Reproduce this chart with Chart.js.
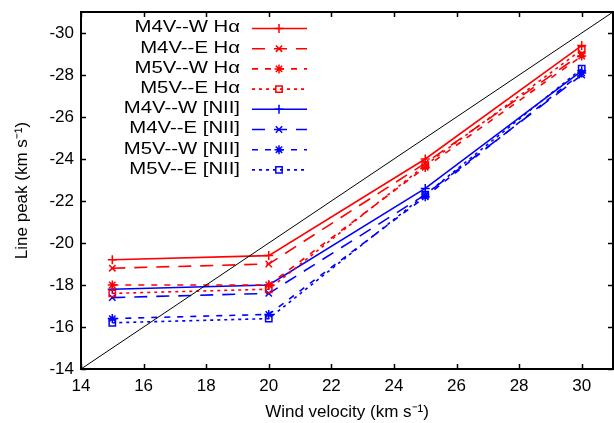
<!DOCTYPE html>
<html>
<head>
<meta charset="utf-8">
<script src="https://cdn.jsdelivr.net/npm/chart.js@4.4.0/dist/chart.umd.min.js"></script>
<style>
html,body{margin:0;padding:0;background:#fff;}
#wrap{width:614px;height:423px;}
</style>
</head>
<body>
<div id="wrap"><canvas id="c" width="614" height="423"></canvas></div>
<script>
// ---- data ----
const windVelocity = [15, 20, 25, 30];
const seriesLabels = ['M4V--W H\u03b1','M4V--E H\u03b1','M5V--W H\u03b1','M5V--E H\u03b1',
                      'M4V--W [NII]','M4V--E [NII]','M5V--W [NII]','M5V--E [NII]'];
const m4vW_Ha  = [-19.2, -19.4, -24.0, -29.4];
const m4vE_Ha  = [-18.8, -19.0, -23.8, -29.0];
const m5vW_Ha  = [-18.0, -18.0, -23.6, -28.9];
const m5vE_Ha  = [-17.6, -17.8, -23.7, -29.2];
const m4vW_NII = [-17.8, -18.0, -22.6, -28.2];
const m4vE_NII = [-17.4, -17.6, -22.3, -28.0];
const m5vW_NII = [-16.4, -16.6, -22.2, -28.1];
const m5vE_NII = [-16.2, -16.4, -22.3, -28.3];
const diagonalX = [14, 31];          // y = -x reference line
const xTicks = [14,16,18,20,22,24,26,28,30];
const yTicks = [-14,-16,-18,-20,-22,-24,-26,-28,-30];
const xMin = 14, xMax = 31, yMin = -31, yMax = -14;

const FONT = "'Liberation Sans', Arial, sans-serif";
const RED = '#ff0000', BLUE = '#0000ff';

const styles = [
  {c:RED,  dash:[],      ps:'cross'},
  {c:RED,  dash:[13,9],  ps:'crossRot'},
  {c:RED,  dash:[6,7],   ps:'star'},
  {c:RED,  dash:[3,4],   ps:'rect'},
  {c:BLUE, dash:[],      ps:'cross'},
  {c:BLUE, dash:[13,9],  ps:'crossRot'},
  {c:BLUE, dash:[6,7],   ps:'star'},
  {c:BLUE, dash:[3,4],   ps:'rect'}
];
const seriesValues = [m4vW_Ha, m4vE_Ha, m5vW_Ha, m5vE_Ha, m4vW_NII, m4vE_NII, m5vW_NII, m5vE_NII];

const datasets = seriesValues.map((vals, i) => ({
  label: seriesLabels[i],
  data: windVelocity.map((x, j) => ({x: x, y: vals[j]})),
  borderColor: styles[i].c,
  backgroundColor: 'rgba(0,0,0,0)',
  borderWidth: 1.6,
  borderDash: styles[i].dash,
  pointStyle: styles[i].ps,
  pointRadius: 4.5,
  pointBorderColor: styles[i].c,
  pointBackgroundColor: 'rgba(0,0,0,0)',
  pointBorderWidth: 1.5,
  fill: false,
  tension: 0
}));
datasets.unshift({
  label: '_diag',
  data: diagonalX.map(x => ({x: x, y: -x})),
  borderColor: '#000',
  borderWidth: 1,
  pointRadius: 0,
  fill: false
});

// stretch the plot area to the right edge like the reference frame
const areaPlugin = {
  id: 'area',
  afterLayout(chart) {
    const target = chart.width - 1;
    const a = chart.chartArea;
    const sx = chart.scales.x;
    if (!sx || a.right >= target) return;
    a.right = target; a.width = a.right - a.left;
    sx.right = target; sx.width = target - sx.left;
    sx.configure();
  }
};

const framePlugin = {
  id: 'frame',
  afterDatasetsDraw(chart) {
    const {ctx, chartArea: a, scales} = chart;
    ctx.save();
    ctx.strokeStyle = '#000';
    ctx.lineWidth = 1.5;
    ctx.setLineDash([]);
    const L = 5;
    ctx.beginPath();
    xTicks.forEach(v => {
      const px = Math.round(scales.x.getPixelForValue(v)) + 0.5;
      ctx.moveTo(px, a.bottom); ctx.lineTo(px, a.bottom - L);
      ctx.moveTo(px, a.top); ctx.lineTo(px, a.top + L);
    });
    yTicks.forEach(v => {
      const py = Math.round(scales.y.getPixelForValue(v)) + 0.5;
      ctx.moveTo(a.left, py); ctx.lineTo(a.left + L, py);
      ctx.moveTo(a.right, py); ctx.lineTo(a.right - L, py);
    });
    ctx.stroke();
    ctx.lineWidth = 2;
    ctx.strokeRect(a.left, a.top, a.right - a.left, a.bottom - a.top);
    ctx.restore();

    // custom gnuplot-style legend
    ctx.save();
    const textRight = a.left + 159;
    const lineL = a.left + 171, lineR = a.left + 226, mk = a.left + 198;
    const top0 = 28, step = 20.2;
    ctx.font = '16px ' + FONT;
    ctx.textAlign = 'right';
    ctx.textBaseline = 'middle';
    chart.data.datasets.forEach((ds, k) => {
      if (ds.label === '_diag') return;
      const i = k - 1;
      const y = top0 + i * step;
      ctx.save();
      ctx.translate(textRight, y);
      ctx.scale(1.27, 1);
      ctx.fillStyle = '#000';
      ctx.fillText(ds.label, 0, 0);
      ctx.restore();
      ctx.strokeStyle = ds.borderColor;
      ctx.lineWidth = ds.borderWidth;
      ctx.setLineDash(ds.borderDash);
      ctx.beginPath();
      ctx.moveTo(lineL, y + 0.5); ctx.lineTo(lineR, y + 0.5);
      ctx.stroke();
      ctx.setLineDash([]);
      ctx.fillStyle = 'rgba(0,0,0,0)';
      ctx.lineWidth = ds.pointBorderWidth;
      Chart.helpers.drawPoint(ctx, {pointStyle: ds.pointStyle, radius: ds.pointRadius, rotation: 0, borderWidth: ds.pointBorderWidth}, mk, y + 0.5);
    });
    ctx.restore();
  }
};

new Chart(document.getElementById('c'), {
  type: 'line',
  data: {datasets: datasets},
  plugins: [areaPlugin, framePlugin],
  options: {
    responsive: false,
    animation: false,
    devicePixelRatio: 1,
    layout: {padding: {top: 12, right: 1, left: 0, bottom: 0}},
    plugins: {legend: {display: false}, tooltip: {enabled: false}},
    scales: {
      x: {
        type: 'linear', min: xMin, max: xMax,
        afterBuildTicks: s => { s.ticks = xTicks.concat([xMax]).map(v => ({value: v})); },
        afterFit: s => { s.height = 54; s.paddingLeft = 0; s.paddingRight = 0; },
        grid: {display: false, drawTicks: true, tickLength: 7},
        border: {display: false},
        ticks: {color: '#000', font: {family: FONT, size: 17}, padding: 0, maxRotation: 0,
                callback: v => (v === xMax ? '' : String(v))},
        title: {display: true, text: 'Wind velocity (km s\u207b\u00b9)', color: '#000', font: {family: FONT, size: 17}, padding: {top: 1, bottom: 0}}
      },
      y: {
        type: 'linear', min: yMin, max: yMax, reverse: true,
        afterBuildTicks: s => { s.ticks = yTicks.concat([yMin]).map(v => ({value: v})); },
        afterFit: s => { s.width = 81; s.paddingTop = 0; s.paddingBottom = 0; },
        grid: {display: false, drawTicks: false},
        border: {display: false},
        ticks: {color: '#000', font: {family: FONT, size: 17, lineHeight: 0.6}, padding: 7,
                callback: v => (v === yMin ? '' : String(v))},
        title: {display: true, text: 'Line peak (km s\u207b\u00b9)', color: '#000', font: {family: FONT, size: 17}, padding: {top: 12, bottom: 0}}
      }
    }
  }
});
</script>
</body>
</html>
